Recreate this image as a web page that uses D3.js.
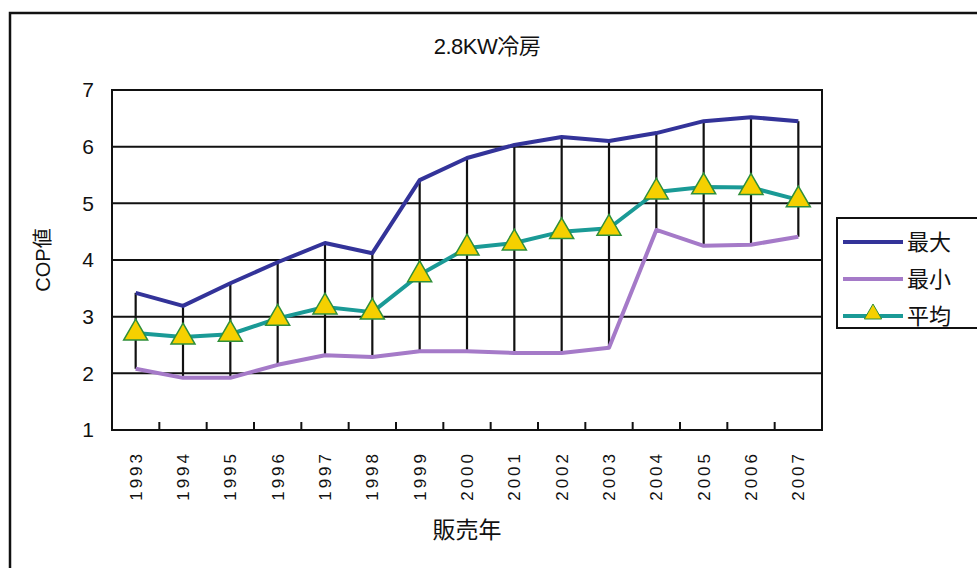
<!DOCTYPE html>
<html>
<head>
<meta charset="utf-8">
<script src="https://cdn.jsdelivr.net/npm/d3@7/dist/d3.min.js"></script>
<style>
  body { margin: 0; background: #fff; }
  svg text { font-family: "Liberation Sans", "Noto Sans CJK JP", sans-serif; fill: #111; }
</style>
</head>
<body>
<svg id="chart" width="977" height="568"></svg>
<script>
// chart data
const years = ['1993', '1994', '1995', '1996', '1997', '1998', '1999', '2000',
               '2001', '2002', '2003', '2004', '2005', '2006', '2007'];
const maxCop = [3.42, 3.19, 3.59, 3.96, 4.30, 4.12, 5.41, 5.80, 6.03, 6.17, 6.10, 6.24, 6.45, 6.52, 6.45];
const minCop = [2.08, 1.92, 1.92, 2.15, 2.32, 2.29, 2.39, 2.39, 2.36, 2.36, 2.45, 4.53, 4.25, 4.27, 4.41];
const avgCop = [2.71, 2.64, 2.69, 2.97, 3.17, 3.08, 3.74, 4.21, 4.30, 4.50, 4.56, 5.20, 5.29, 5.28, 5.06];
const yTicks = [1, 2, 3, 4, 5, 6, 7];
const seriesNames = ['最大', '最小', '平均'];

const colors = { max: '#333399', min: '#a57ac8', avg: '#1a9a96', marker: '#f5d000', markerEdge: '#2f8f3a' };

const svg = d3.select('#chart');
const plot = { left: 112, right: 822, top: 90, bottom: 430 };

// outer chart frame (right/bottom edges run off the picture)
svg.append('rect')
    .attr('x', 10).attr('y', 13)
    .attr('width', 1000).attr('height', 600)
    .attr('fill', 'none').attr('stroke', '#111').attr('stroke-width', 2.5);

const x = d3.scalePoint().domain(years).range([plot.left, plot.right]).padding(0.5);
const xBand = d3.scaleBand().domain(years).range([plot.left, plot.right]);
const y = d3.scaleLinear().domain([1, 7]).range([plot.bottom, plot.top]);

// gridlines
svg.append('g').selectAll('line')
    .data(yTicks)
    .join('line')
    .attr('x1', plot.left).attr('x2', plot.right)
    .attr('y1', d => y(d)).attr('y2', d => y(d))
    .attr('stroke', '#111').attr('stroke-width', 2);

// plot frame
svg.append('rect')
    .attr('x', plot.left).attr('y', plot.top)
    .attr('width', plot.right - plot.left).attr('height', plot.bottom - plot.top)
    .attr('fill', 'none').attr('stroke', '#111').attr('stroke-width', 2);

// category tick marks along the bottom, inside the plot
svg.append('g').selectAll('line')
    .data(years.slice(1))
    .join('line')
    .attr('x1', d => xBand(d)).attr('x2', d => xBand(d))
    .attr('y1', plot.bottom).attr('y2', plot.bottom - 8)
    .attr('stroke', '#111').attr('stroke-width', 2);

// high-low lines
svg.append('g').selectAll('line')
    .data(years)
    .join('line')
    .attr('x1', d => x(d)).attr('x2', d => x(d))
    .attr('y1', (d, i) => y(maxCop[i])).attr('y2', (d, i) => y(minCop[i]))
    .attr('stroke', '#111').attr('stroke-width', 2.2);

const line = d3.line().x(d => x(d[0])).y(d => y(d[1]));
const seriesData = [
    { key: 'max', values: maxCop },
    { key: 'min', values: minCop },
    { key: 'avg', values: avgCop }
];

svg.append('g').selectAll('path')
    .data(seriesData)
    .join('path')
    .attr('d', s => line(years.map((yr, i) => [yr, s.values[i]])))
    .attr('fill', 'none')
    .attr('stroke', s => colors[s.key])
    .attr('stroke-width', 4)
    .attr('stroke-linejoin', 'round');

// triangle markers on the average series
const tri = d3.symbol().type(d3.symbolTriangle).size(250);
svg.append('g').selectAll('path')
    .data(years)
    .join('path')
    .attr('d', tri)
    .attr('transform', (d, i) => `translate(${x(d)},${y(avgCop[i])})`)
    .attr('fill', colors.marker)
    .attr('stroke', colors.markerEdge)
    .attr('stroke-width', 1.5);

// y tick labels
svg.append('g').selectAll('text')
    .data(yTicks)
    .join('text')
    .attr('x', 94).attr('y', d => y(d))
    .attr('dy', '0.35em')
    .attr('text-anchor', 'end')
    .style('font-size', '21px')
    .text(d => d);

// x tick labels, rotated
svg.append('g').selectAll('text')
    .data(years)
    .join('text')
    .attr('transform', d => `translate(${x(d) + 6},451) rotate(-90)`)
    .attr('text-anchor', 'end')
    .style('font-size', '17px')
    .style('letter-spacing', '3px')
    .text(d => d);

// titles
svg.append('text')
    .attr('x', 487).attr('y', 54)
    .attr('text-anchor', 'middle')
    .style('font-size', '22px')
    .style('letter-spacing', '-0.5px')
    .text('2.8KW冷房');

svg.append('text')
    .attr('transform', `translate(50,${(plot.top + plot.bottom) / 2}) rotate(-90)`)
    .attr('text-anchor', 'middle')
    .style('font-size', '20px')
    .text('COP値');

svg.append('text')
    .attr('x', 467).attr('y', 538)
    .attr('text-anchor', 'middle')
    .style('font-size', '23px')
    .text('販売年');

// legend
const legend = svg.append('g').attr('transform', 'translate(837,218)');
legend.append('rect')
    .attr('width', 150).attr('height', 110)
    .attr('fill', '#fff').attr('stroke', '#111').attr('stroke-width', 2);

const item = legend.selectAll('g.item')
    .data(seriesData)
    .join('g')
    .attr('class', 'item')
    .attr('transform', (d, i) => `translate(0,${24 + i * 37})`);

item.append('line')
    .attr('x1', 6).attr('x2', 66)
    .attr('stroke', d => colors[d.key])
    .attr('stroke-width', 4);

item.filter(d => d.key === 'avg')
    .append('path')
    .attr('d', d3.symbol().type(d3.symbolTriangle).size(130))
    .attr('transform', 'translate(36,-2)')
    .attr('fill', colors.marker)
    .attr('stroke', colors.markerEdge)
    .attr('stroke-width', 1);

item.append('text')
    .attr('x', 70).attr('dy', '0.35em')
    .style('font-size', '22px')
    .text((d, i) => seriesNames[i]);
</script>
</body>
</html>
